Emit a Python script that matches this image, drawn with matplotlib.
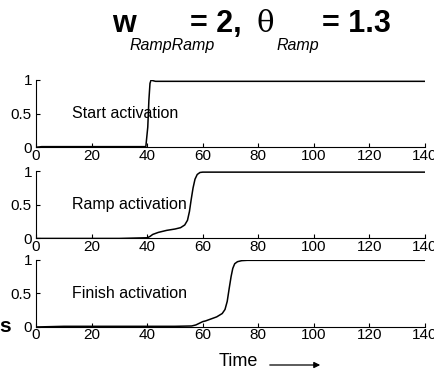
import matplotlib
matplotlib.use('Agg')
import matplotlib.pyplot as plt
import numpy as np

plt.rcParams['font.family'] = ['Liberation Sans', 'DejaVu Sans']

# values
start_t = [0, 2, 10, 20, 30, 39.5, 40.2, 40.6, 41.0, 41.4, 42, 43, 50, 80, 140]
start_y = [0, 0.01, 0.01, 0.01, 0.01, 0.01, 0.3, 0.7, 0.95, 1.0, 0.99, 0.98, 0.98, 0.98, 0.98]

ramp_t = [0, 10, 20, 30, 40, 41, 42, 44, 47, 50, 52, 53.5, 54.5, 55.2, 55.8, 56.5, 57.2, 58, 59, 60, 62, 80, 140]
ramp_y = [0, 0, 0, 0, 0.01, 0.03, 0.06, 0.09, 0.12, 0.14, 0.16, 0.2, 0.27, 0.4, 0.57, 0.75, 0.88, 0.95, 0.98, 0.985, 0.985, 0.985, 0.985]

finish_t = [0, 10, 20, 30, 40, 50, 56, 57.5, 59, 60, 61, 63, 65, 67, 68, 68.8, 69.5, 70.2, 70.8, 71.5, 72.5, 74, 76, 90, 140]
finish_y = [0, 0.01, 0.01, 0.01, 0.01, 0.01, 0.015, 0.03, 0.06, 0.08, 0.09, 0.12, 0.15, 0.2, 0.26, 0.38, 0.57, 0.75, 0.87, 0.94, 0.97, 0.985, 0.99, 0.99, 0.99]

labels = ['Start activation', 'Ramp activation', 'Finish activation']
xticks = [0, 20, 40, 60, 80, 100, 120, 140]
yticks = [0, 0.5, 1]

fig = plt.figure(figsize=(4.35, 3.72), dpi=100)

bottoms = [0.604, 0.359, 0.121]
series = [(start_t, start_y), (ramp_t, ramp_y), (finish_t, finish_y)]

for b, (t, y), lab in zip(bottoms, series, labels):
    ax = fig.add_axes([0.083, b, 0.894, 0.181])
    ax.plot(t, y, color='black', lw=1.1)
    ax.set_xlim(0, 140)
    ax.set_ylim(0, 1)
    ax.set_xticks(xticks)
    ax.set_yticks(yticks)
    ax.set_yticklabels(['0', '0.5', '1'])
    ax.spines['top'].set_visible(False)
    ax.spines['right'].set_visible(False)
    ax.spines['left'].set_linewidth(0.8)
    ax.spines['bottom'].set_linewidth(0.8)
    ax.tick_params(direction='in', length=3, width=0.8, labelsize=11)
    ax.tick_params(axis='x', pad=1)
    ax.tick_params(axis='y', pad=3)
    ax.set_facecolor('none')
    ax.text(13, 0.5, lab, fontsize=11.5, va='center', ha='left')

# title made of pieces
big = 22
fig.text(112/435, 1-32/372, 'w', fontsize=big, fontweight='bold', va='baseline')
fig.text(130/435, 1-50/372, 'RampRamp', fontsize=11.5, style='italic', va='baseline')
fig.text(190/435, 1-32/372, '= 2,', fontsize=big, fontweight='bold', va='baseline')
fig.text(257/435, 1-32/372, 'θ', fontsize=21, family='DejaVu Serif', va='baseline')
fig.text(277/435, 1-50/372, 'Ramp', fontsize=11.5, style='italic', va='baseline')
fig.text(322/435, 1-32/372, '= 1.3', fontsize=big, fontweight='bold', va='baseline')

fig.text(-1/435, 1-326/372, 's', fontsize=15, fontweight='bold', va='center')

fig.text(219/435, 1-362/372, 'Time', fontsize=13, va='center')
fig.add_artist(matplotlib.patches.FancyArrowPatch(
    (267/435, 1-365/372), (323/435, 1-365/372), transform=fig.transFigure,
    arrowstyle='-|>', mutation_scale=9, color='black', lw=0.9))

fig.savefig('out.png', dpi=100)
